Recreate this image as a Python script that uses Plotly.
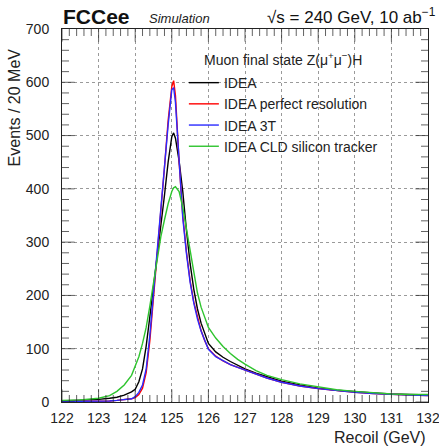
import plotly.graph_objects as go

# Recoil mass (GeV) sample positions
recoil = [122.0, 122.5, 123.0, 123.3, 123.5, 123.7, 123.9, 124.0, 124.1, 124.2,
          124.3, 124.4, 124.5, 124.6, 124.7, 124.8, 124.9, 125.0, 125.05, 125.1,
          125.2, 125.3, 125.4, 125.5, 125.6, 125.7, 125.8, 125.9, 126.0, 126.2,
          126.4, 126.6, 126.8, 127.0, 127.3, 127.6, 128.0, 128.5, 129.0, 129.5,
          130.0, 130.5, 131.0, 131.5, 132.0]

idea = [2, 3, 5, 7, 9, 13, 19, 24, 38, 62,
        105, 160, 215, 275, 330, 388, 450, 498, 505, 495,
        452, 395, 322, 260, 212, 175, 148, 127, 110, 94,
        84, 76, 69, 62, 54, 47, 39, 32, 26, 22,
        19, 17, 15, 14, 13]

idea_perfect = [1, 1, 2, 2, 3, 4, 6, 8, 14, 26,
                55, 115, 195, 275, 350, 440, 528, 592, 603, 575,
                450, 350, 282, 228, 188, 158, 134, 115, 100, 86,
                77, 70, 65, 60, 52, 45, 37, 30, 25, 21,
                18, 16, 14, 13, 12]

idea_3t = [1, 1, 2, 2, 3, 4, 6, 10, 18, 32,
           62, 125, 205, 280, 352, 435, 520, 586, 590, 562,
           445, 345, 279, 225, 186, 156, 133, 114, 99, 85,
           77, 70, 65, 60, 52, 45, 37, 30, 25, 21,
           18, 16, 14, 13, 12]

idea_cld = [3, 4, 7, 12, 20, 32, 50, 66, 85, 110,
            140, 180, 225, 270, 310, 342, 372, 395, 402, 404,
            395, 365, 325, 282, 240, 205, 178, 157, 140, 120,
            104, 91, 80, 71, 59, 50, 42, 34, 28, 23,
            20, 17, 15, 14, 14]

x_major = [122, 123, 124, 125, 126, 127, 128, 129, 130, 131, 132]
y_major = [0, 100, 200, 300, 400, 500, 600, 700]

series = [
    ("IDEA", idea, "#000000"),
    ("IDEA perfect resolution", idea_perfect, "#ff0000"),
    ("IDEA 3T", idea_3t, "#2a2aff"),
    ("IDEA CLD silicon tracker", idea_cld, "#2ec42e"),
]

fig = go.Figure()
for i, (name, vals, col) in enumerate(series):
    fig.add_trace(go.Scatter(x=recoil, y=vals, mode="lines", name=name,
                             legendgroup=f"g{i}",
                             line=dict(color=col, width=1.4)))

# ROOT-style inside ticks on all four sides, drawn as half-clipped line markers
xlo, xhi = x_major[0], x_major[-1]
ylo, yhi = y_major[0], y_major[-1]
xt, xs = [], []
for k in range(len(x_major) - 1):
    for j in range(5):
        xt.append(x_major[k] + j * (x_major[k + 1] - x_major[k]) / 5)
        xs.append(18 if j == 0 else 10)
yt, ys = [], []
for k in range(len(y_major) - 1):
    for j in range(5):
        yt.append(y_major[k] + j * (y_major[k + 1] - y_major[k]) / 5)
        ys.append(18 if j == 0 else 10)

tick_marker = dict(color="#222", line=dict(color="#222", width=1))
for yy in (ylo, yhi):
    fig.add_trace(go.Scatter(x=xt, y=[yy] * len(xt), mode="markers", showlegend=False,
                             hoverinfo="skip", cliponaxis=True,
                             marker=dict(symbol="line-ns", size=xs, **tick_marker)))
for xx in (xlo, xhi):
    fig.add_trace(go.Scatter(x=[xx] * len(yt), y=yt, mode="markers", showlegend=False,
                             hoverinfo="skip", cliponaxis=True,
                             marker=dict(symbol="line-ew", size=ys, **tick_marker)))

FONT = "Liberation Sans, Arial, sans-serif"

fig.update_xaxes(
    range=[xlo, xhi], tickmode="array", tickvals=x_major,
    ticktext=[str(v) for v in x_major], ticks="",
    showline=True, linecolor="#222", linewidth=1, mirror=True,
    showgrid=True, gridcolor="#9a9a9a", griddash="dot", gridwidth=1,
    zeroline=False, ticklabeloverflow="allow", automargin=False,
    ticklabelstandoff=3,
    tickfont=dict(family=FONT, size=14, color="#222"),
)
fig.update_yaxes(
    range=[ylo, yhi], tickmode="array", tickvals=y_major,
    ticktext=[str(v) for v in y_major], ticks="",
    showline=True, linecolor="#222", linewidth=1, mirror=True,
    showgrid=True, gridcolor="#9a9a9a", griddash="dot", gridwidth=1,
    zeroline=False, ticklabeloverflow="allow", automargin=False,
    ticklabelstandoff=9,
    tickfont=dict(family=FONT, size=14, color="#222"),
)

fig.update_layout(
    width=439, height=448,
    margin=dict(l=62, r=11, t=29, b=46),
    paper_bgcolor="white", plot_bgcolor="white",
    font=dict(family=FONT, color="#222"),
    legend=dict(
        x=0.333, y=0.898, xanchor="left", yanchor="top",
        bgcolor="rgba(0,0,0,0)", borderwidth=0,
        font=dict(family=FONT, size=14, color="#222"),
        tracegroupgap=0,
    ),
    showlegend=True,
    annotations=[
        dict(text="Muon final state Z(μ<sup>+</sup>μ<sup>−</sup>)H", xref="paper", yref="paper",
             x=0.383, y=0.92, xanchor="left", yanchor="middle", showarrow=False,
             font=dict(family=FONT, size=14, color="#222")),
        dict(text="<b>FCCee</b>", xref="paper", yref="paper", x=-0.002, y=1.034,
             xanchor="left", yanchor="middle", showarrow=False,
             font=dict(family=FONT, size=21, color="#111")),
        dict(text="<i>Simulation</i>", xref="paper", yref="paper", x=0.232, y=1.027,
             xanchor="left", yanchor="middle", showarrow=False,
             font=dict(family=FONT, size=13, color="#222")),
        dict(text="√s = 240 GeV, 10 ab<sup>−1</sup>", xref="paper", yref="paper",
             x=1.027, y=1.035, xanchor="right", yanchor="middle", showarrow=False,
             font=dict(family=FONT, size=17, color="#111")),
        dict(text="Events / 20 MeV", xref="paper", yref="paper", x=-0.131, y=0.79,
             xanchor="center", yanchor="middle", textangle=-90, showarrow=False,
             font=dict(family=FONT, size=16, color="#222")),
        dict(text="Recoil (GeV)", xref="paper", yref="paper", x=1.0, y=-0.094,
             xanchor="right", yanchor="middle", showarrow=False,
             font=dict(family=FONT, size=16, color="#222")),
    ],
)

fig.write_html("out.html")
